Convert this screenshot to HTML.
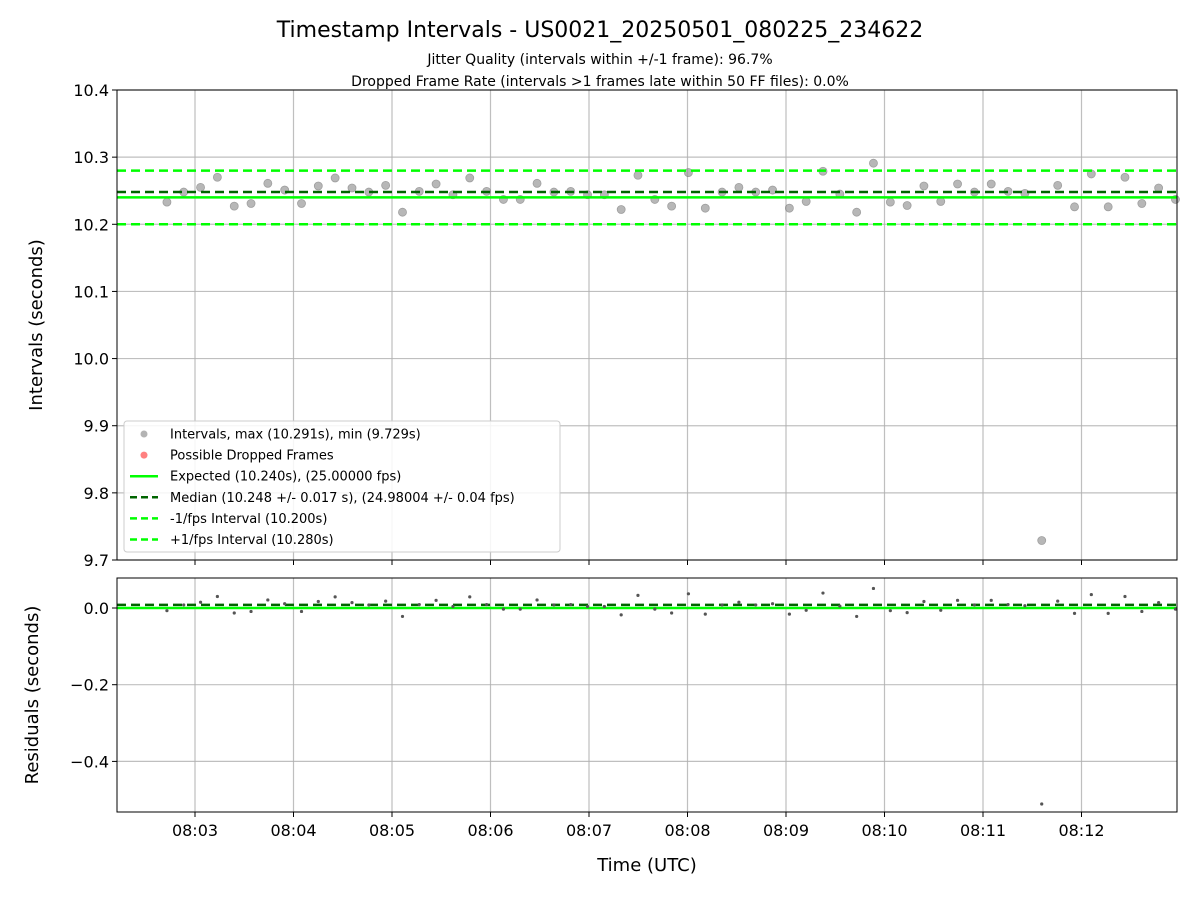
<!DOCTYPE html>
<html><head><meta charset="utf-8"><style>
body{margin:0;background:#fff}
svg text{font-family:"DejaVu Sans","Liberation Sans",sans-serif;fill:#000}
</style></head><body>
<svg id="c" width="1200" height="900" xmlns="http://www.w3.org/2000/svg">
<text x="600" y="37" text-anchor="middle" font-size="22">Timestamp Intervals - US0021_20250501_080225_234622</text>
<text x="600" y="64" text-anchor="middle" font-size="14">Jitter Quality (intervals within +/-1 frame): 96.7%</text>
<text x="600" y="86" text-anchor="middle" font-size="14">Dropped Frame Rate (intervals &gt;1 frames late within 50 FF files): 0.0%</text>
<g id="gtop"></g><g id="gbot"></g>
<text transform="translate(42,325) rotate(-90)" text-anchor="middle" font-size="18">Intervals (seconds)</text>
<text transform="translate(38,695) rotate(-90)" text-anchor="middle" font-size="18">Residuals (seconds)</text>
<text x="647" y="871" text-anchor="middle" font-size="18">Time (UTC)</text>
</svg>
<script>
const intervals=[10.233,10.248,10.255,10.270,10.227,10.231,10.261,10.251,10.231,10.257,10.269,10.254,10.248,10.258,10.218,10.249,10.260,10.244,10.269,10.249,10.237,10.237,10.261,10.248,10.249,10.244,10.244,10.222,10.273,10.237,10.227,10.277,10.224,10.248,10.255,10.248,10.251,10.224,10.234,10.279,10.245,10.218,10.291,10.233,10.228,10.257,10.234,10.260,10.248,10.260,10.249,10.246,9.729,10.258,10.226,10.275,10.226,10.270,10.231,10.254,10.237];
const startSec=162.9;
const expected=10.240, median=10.248, lowLim=10.200, highLim=10.280;
const xTicks=[180,240,300,360,420,480,540,600,660,720];
const xTickLabels=["08:03","08:04","08:05","08:06","08:07","08:08","08:09","08:10","08:11","08:12"];
const yTicksTop=[9.7,9.8,9.9,10.0,10.1,10.2,10.3,10.4];
const yTicksBot=[0.0,-0.2,-0.4];
const L=117,R=1177;
const X=t=>195+(t-180)*98.5/60;
const Yt=v=>560-(v-9.7)*470/0.7;
const Yb=v=>608-v*383.5;
const NS="http://www.w3.org/2000/svg";
function mk(p,tag,a){const e=document.createElementNS(NS,tag);for(const k in a)e.setAttribute(k,a[k]);p.appendChild(e);return e;}
const gTop=document.getElementById('gtop'),gBot=document.getElementById('gbot');
const times=[];let tt=startSec;for(let i=0;i<intervals.length;i++){times.push(tt);tt+=intervals[i];}
function axes(g,y0,y1,yt,Y,fmt,nm){
  for(let i=0;i<xTicks.length;i++){const x=X(xTicks[i]);
    let l=mk(g,'line',{x1:x,x2:x,y1:y0,y2:y1,stroke:'#b0b0b0','stroke-width':1.2,opacity:0.8});
    
    
    mk(g,'line',{x1:x,x2:x,y1:y1,y2:y1+5,stroke:'#000'});
    if(nm==='bottom'){let tx=mk(g,'text',{x:x,y:y1+24,'text-anchor':'middle','font-size':16});tx.textContent=xTickLabels[i];
      
      }
  }
  for(const v of yt){const y=Y(v);
    let l=mk(g,'line',{x1:L,x2:R,y1:y,y2:y,stroke:'#b0b0b0','stroke-width':1.2,opacity:0.8});
    
    
    mk(g,'line',{x1:L-5,x2:L,y1:y,y2:y,stroke:'#000'});
    let tx=mk(g,'text',{x:L-8,y:y+6,'text-anchor':'end','font-size':16});tx.textContent=fmt(v);
    
    }
}
axes(gTop,90,560,yTicksTop,Yt,v=>v.toFixed(1),'top');
axes(gBot,578,812,yTicksBot,Yb,v=>(v<0?'\u2212':'')+Math.abs(v).toFixed(1),'bottom');
function hline(g,y,c,d,w,name){let l=mk(g,'line',{x1:L,x2:R,y1:y,y2:y,stroke:c,'stroke-width':w});if(d)l.setAttribute('stroke-dasharray',d);
  
  }
for(let i=0;i<intervals.length;i++){let c=mk(gTop,'circle',{cx:X(times[i]),cy:Yt(intervals[i]),r:4,fill:'#999',stroke:'#777','stroke-width':0.8,opacity:0.7});
  
  }
hline(gTop,Yt(expected),'#00ff00',null,2.5,'expected-line');
hline(gTop,Yt(median),'#006400','9,5',2.5,'median-line');
hline(gTop,Yt(lowLim),'#00ff00','9,5',2.5,'minus-fps-line');
hline(gTop,Yt(highLim),'#00ff00','9,5',2.5,'plus-fps-line');
hline(gBot,Yb(0),'#00ff00',null,2.5,'residual-zero-line');
hline(gBot,Yb(median-expected),'#006400','9,5',2.5,'residual-median-line');
for(let i=0;i<intervals.length;i++){let c=mk(gBot,'circle',{cx:X(times[i]),cy:Yb(intervals[i]-expected),r:1.6,fill:'#555'});
  
  }
mk(gTop,'rect',{x:L,y:90,width:R-L,height:470,fill:'none',stroke:'#000','stroke-width':1});
mk(gBot,'rect',{x:L,y:578,width:R-L,height:234,fill:'none',stroke:'#000','stroke-width':1});
const lg=mk(gTop,'g',{});


mk(lg,'rect',{x:124,y:421,width:436,height:131,rx:3,fill:'#fff','fill-opacity':0.85,stroke:'#ccc'});
const ent=[["Intervals, max (10.291s), min (9.729s)","pt","#999"],["Possible Dropped Frames","pt","#ff5555"],["Expected (10.240s), (25.00000 fps)","ln","#00ff00"],["Median (10.248 +/- 0.017 s), (24.98004 +/- 0.04 fps)","ds","#006400"],["-1/fps Interval (10.200s)","ds","#00ff00"],["+1/fps Interval (10.280s)","ds","#00ff00"]];
ent.forEach((e,i)=>{const y=434+i*21.1;
  if(e[1]==='pt')mk(lg,'circle',{cx:144,cy:y,r:3.5,fill:e[2],opacity:0.75});
  else {let l=mk(lg,'line',{x1:130,x2:158,y1:y,y2:y,stroke:e[2],'stroke-width':2.5});if(e[1]==='ds')l.setAttribute('stroke-dasharray','7,4');}
  let tx=mk(lg,'text',{x:170,y:y+4.5,'font-size':13});tx.textContent=e[0];
  
  });
</script>
</body></html>
